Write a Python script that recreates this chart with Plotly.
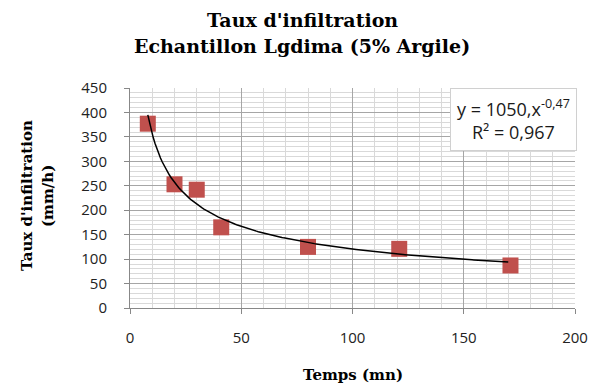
import numpy as np
import plotly.graph_objects as go

# Data
temps = [8, 20, 30, 41, 80, 121, 171]
taux = [377, 253, 242, 165, 125, 121, 87]

# Power trend line coefficients (as displayed)
coef_a = 1050
coef_b = -0.47
r2_label = "R² = 0,967"
eq_label = "y = 1050,x<sup>-0,47</sup>"

title_lines = ["Taux d'infiltration", "Echantillon Lgdima (5% Argile)"]
x_title = "Temps (mn)"
y_title = ["Taux d'infiltration", "(mm/h)"]

xt = np.linspace(min(temps), 170, 200)
yt = coef_a * xt ** coef_b

SERIF = "DejaVu Serif"

fig = go.Figure()
fig.add_trace(go.Scatter(x=temps, y=taux, mode="markers",
                         marker=dict(symbol="square", size=16, color="#C0504D"),
                         showlegend=False))
fig.add_trace(go.Scatter(x=xt, y=yt, mode="lines",
                         line=dict(color="black", width=1.5), showlegend=False))

fig.update_layout(
    width=600, height=390,
    margin=dict(l=130, r=25, t=88, b=82),
    paper_bgcolor="white", plot_bgcolor="white",
    font=dict(family="Open Sans", size=14, color="#222"),
    xaxis=dict(range=[0, 200], tickvals=[0, 50, 100, 150, 200],
               showgrid=True, gridcolor="#a6a6a6", gridwidth=1,
               minor=dict(dtick=10, showgrid=True, gridcolor="#d9d9d9", gridwidth=1),
               showline=True, linecolor="#888", linewidth=1,
               ticks="outside", ticklen=5, tickcolor="#888",
               ticklabelstandoff=11,
               zeroline=False,
               tickfont=dict(size=15, family="Open Sans", color="#222")),
    yaxis=dict(range=[0, 450], dtick=50,
               showgrid=True, gridcolor="#a6a6a6", gridwidth=1,
               minor=dict(dtick=10, showgrid=True, gridcolor="#d9d9d9", gridwidth=1),
               showline=True, linecolor="#888", linewidth=1,
               ticks="outside", ticklen=5, tickcolor="#888",
               ticklabelstandoff=14,
               zeroline=False,
               tickfont=dict(size=15, family="Open Sans", color="#222")),
)

# Title (two centred lines)
for i, t in enumerate(title_lines):
    fig.add_annotation(xref="paper", yref="paper", x=(302 - 130) / 445,
                       y=1 + (88 - (20 + 26 * i)) / 220,
                       xanchor="center", yanchor="middle",
                       text="<b>" + t + "</b>", showarrow=False,
                       font=dict(family=SERIF, size=19, color="black"))

# Axis titles
fig.add_annotation(xref="paper", yref="paper", x=0.5, y=-(375 - 308) / 220,
                   xanchor="center", yanchor="middle",
                   text="<b>" + x_title + "</b>", showarrow=False,
                   font=dict(family=SERIF, size=15, color="black"))
for i, t in enumerate(y_title):
    fig.add_annotation(xref="paper", yref="paper", x=-(130 - (27 + 21 * i)) / 445,
                       y=(308 - 196) / 220, xanchor="center", yanchor="middle",
                       text="<b>" + t + "</b>", showarrow=False, textangle=-90,
                       font=dict(family=SERIF, size=15, color="black"))

# Trend line equation box
fig.add_annotation(
    xref="paper", yref="paper", x=1.005, y=1.0, xanchor="right", yanchor="top",
    text=eq_label + "<br>" + r2_label, showarrow=False, align="center",
    bgcolor="white", bordercolor="#d0d0d0", borderwidth=1, borderpad=6,
    font=dict(family="Open Sans", size=18, color="#1a1a1a"),
)

fig.write_html("out.html")
